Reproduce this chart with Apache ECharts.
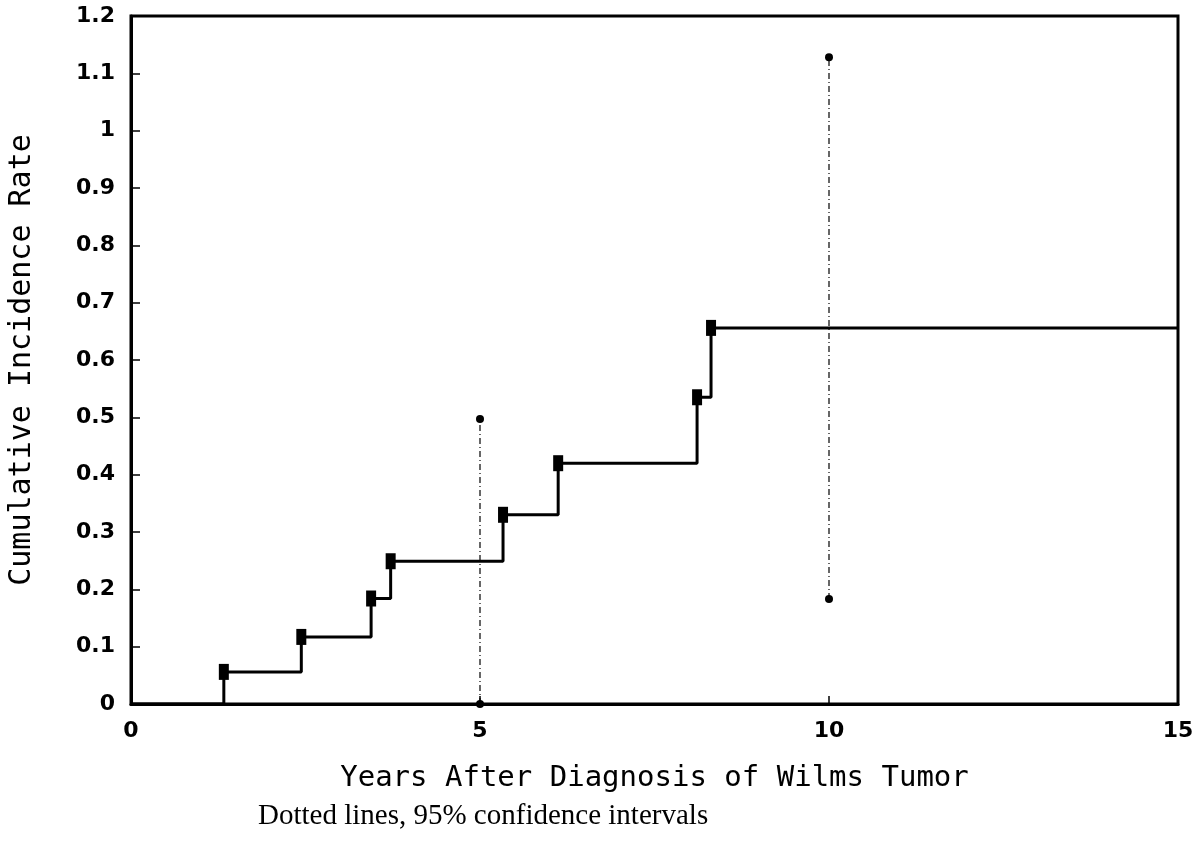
<!DOCTYPE html>
<html>
<head>
<meta charset="utf-8">
<script src="https://cdn.jsdelivr.net/npm/echarts@6/dist/echarts.min.js"></script>
<style>
  html, body { margin: 0; padding: 0; background: #fff; }
  #main { width: 1198px; height: 854px; }
</style>
</head>
<body>
<div id="main"></div>
<script>
// years at which the cumulative incidence steps up, and the level after each step
const stepYears = [1.33, 2.44, 3.44, 3.72, 5.33, 6.12, 8.11, 8.31]
const stepRates = [0.056, 0.117, 0.184, 0.249, 0.330, 0.420, 0.535, 0.656]
const endYear = 15

// 95% confidence intervals: [year, lower, upper]
const ciYears = [5, 10]
const ciLower = [0.0, 0.183]
const ciUpper = [0.497, 1.128]

const xTicks = [0, 5, 10, 15]

const ink = '#000'
const tickFont = { fontFamily: 'DejaVu Sans', fontWeight: 'bold', fontSize: 22, color: ink }
const monoFont = { fontFamily: 'DejaVu Sans Mono', fontSize: 29, color: ink }

// step line: starts at 0, rises at each event, runs flat to the end
let curve = [[0, 0]]
for (let i = 0; i < stepYears.length; i++) {
  curve.push([stepYears[i], stepRates[i]])
}
curve.push([endYear, stepRates[stepRates.length - 1]])

let markers = stepYears.map((x, i) => [x, stepRates[i]])

let ciSeries = ciYears.map((x, i) => ({
  type: 'line',
  data: [[x, ciLower[i]], [x, ciUpper[i]]],
  symbol: 'circle',
  symbolSize: 8,
  showSymbol: true,
  itemStyle: { color: ink, opacity: 1 },
  lineStyle: { color: ink, width: 1.2, type: [6, 3, 1, 3] },
  z: 2,
  silent: true
}))

let chart = echarts.init(document.getElementById('main'))
chart.setOption({
  animation: false,
  backgroundColor: '#fff',
  grid: {
    left: 131, top: 16, right: 20, bottom: 150,
    outerBoundsMode: 'none',
    containLabel: false,
    show: true, borderColor: ink, borderWidth: 3, backgroundColor: 'transparent'
  },
  xAxis: {
    type: 'value',
    min: 0, max: 15, interval: 5,
    name: 'Years After Diagnosis of Wilms Tumor',
    nameLocation: 'middle',
    nameGap: 60,
    nameTextStyle: monoFont,
    axisLine: { show: true, lineStyle: { color: ink, width: 3 } },
    axisTick: { show: true, inside: true, length: 8, lineStyle: { color: ink, width: 1.5 } },
    axisLabel: Object.assign({ margin: 16, formatter: v => xTicks.includes(v) ? String(v) : '' }, tickFont),
    splitLine: { show: false }
  },
  yAxis: {
    type: 'value',
    min: 0, max: 1.2, interval: 0.1,
    name: 'Cumulative Incidence Rate',
    nameLocation: 'middle',
    nameGap: 94,
    nameTextStyle: Object.assign({}, monoFont, { fontSize: 30 }),
    axisLine: { show: true, lineStyle: { color: ink, width: 3 } },
    axisTick: { show: true, inside: true, length: 9, lineStyle: { color: ink, width: 1.5 } },
    axisLabel: Object.assign({ margin: 16, formatter: v => String(Math.round(v * 10) / 10) }, tickFont),
    splitLine: { show: false }
  },
  series: [
    ...ciSeries,
    {
      type: 'line',
      step: 'end',
      data: curve,
      showSymbol: false,
      lineStyle: { color: ink, width: 3 },
      z: 3,
      silent: true
    },
    {
      type: 'scatter',
      data: markers,
      symbol: 'rect',
      symbolSize: [10, 16],
      itemStyle: { color: ink, opacity: 1 },
      z: 4,
      silent: true
    }
  ],
  graphic: [{
    type: 'text',
    left: 258,
    top: 802,
    style: { text: 'Dotted lines, 95% confidence intervals', font: '29px "Liberation Serif"', fill: ink }
  }]
})
</script>
</body>
</html>
